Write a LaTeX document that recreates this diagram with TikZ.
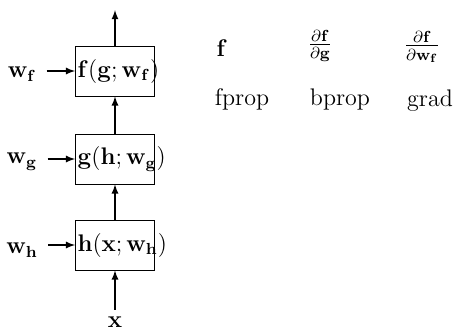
\documentclass[tikz,border=0pt]{standalone}
\usepackage{amsmath}
\usepackage{tikz}
\usetikzlibrary{arrows}

\tikzset{
  layerbox/.style={draw, minimum height=25pt, inner sep=0pt},
  flow/.style={-latex, semithick}
}
% box of fixed width, the label may run past its right side
\newcommand{\layertext}[1]{\makebox[39.5pt][l]{\hspace{1pt}#1}}

\begin{document}
\begin{tikzpicture}[x=0.5pt, y=-0.5pt, font=\large]
			%%%%% START %%%%%
			\useasboundingbox (0, 0) rectangle (465, 332);
			
			% layers
			\node[layerbox] (f) at (115, 71) {\layertext{$\mathbf{f}(\mathbf{g}; \mathbf{w_f})$}};
			\node[layerbox] (g) at (115, 159) {\layertext{$\mathbf{g}(\mathbf{h}; \mathbf{w_g})$}};
			\node[layerbox] (h) at (115, 245) {\layertext{$\mathbf{h}(\mathbf{x}; \mathbf{w_h})$}};
			
			% inputs
			\node (x) at (115, 322) {$\mathbf{x}$};
			\node[inner sep=1pt] (wf) at (22, 74) {$\mathbf{w_f}$};
			\node[inner sep=1pt] (wg) at (22, 162) {$\mathbf{w_g}$};
			\node[inner sep=1pt] (wh) at (22, 250) {$\mathbf{w_h}$};
			\coordinate (out) at (115, 10);
			
			\draw[flow] (x) -- (h);
			\draw[flow] (h) -- (g);
			\draw[flow] (g) -- (f);
			\draw[flow] (f) -- (out);
			
			\draw[flow] ([xshift=4pt]wf.east |- f) -- (f.west);
			\draw[flow] ([xshift=4pt]wg.east |- g) -- (g.west);
			\draw[flow] ([xshift=4pt]wh.east |- h) -- (h.west);
			
			% legend
			\node (fsym) at (222, 48) {$\mathbf{f}$};
			\node (bsym) at (320, 46) {$\frac{\partial\mathbf{f}}{\partial\mathbf{g}}$};
			\node (gsym) at (422, 47) {$\frac{\partial\mathbf{f}}{\partial\mathbf{w_f}}$};
			\node (fprop) at (242, 99) {fprop};
			\node (bprop) at (340, 99) {bprop};
			\node (grad) at (430, 101) {grad};
			
			%%%%% END %%%%%
		\end{tikzpicture}
\end{document}
